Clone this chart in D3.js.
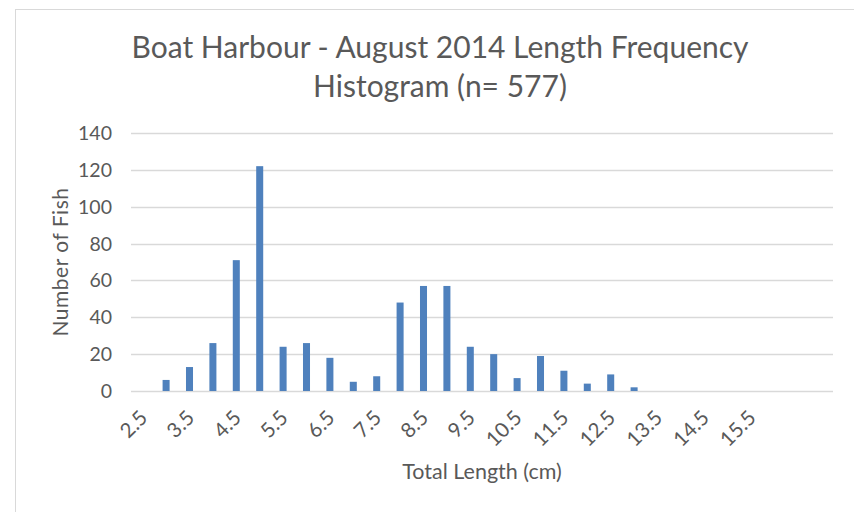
<!DOCTYPE html>
<html>
<head>
<meta charset="utf-8">
<script src="https://cdn.jsdelivr.net/npm/d3@7"></script>
<style>
  body { margin: 0; background: #fff; }
  text { font-family: Lato, "Open Sans", sans-serif; fill: #595959; }
</style>
</head>
<body>
<div class="svg-container"></div>
<script>
const widthSVG = 854;
const heightSVG = 512;

// length classes (cm), one bar each
const lengths = [2.5, 3, 3.5, 4, 4.5, 5, 5.5, 6, 6.5, 7, 7.5, 8, 8.5, 9, 9.5,
  10, 10.5, 11, 11.5, 12, 12.5, 13, 13.5, 14, 14.5, 15, 15.5, 16, 16.5, 17];
// number of fish per class (n = 577)
const counts = [0, 6, 13, 26, 71, 122, 24, 26, 18, 5, 8, 48, 57, 57, 24,
  20, 7, 19, 11, 4, 9, 2, 0, 0, 0, 0, 0, 0, 0, 0];
// labels that are shown on the x axis
const xLabels = ['2.5', '3.5', '4.5', '5.5', '6.5', '7.5', '8.5', '9.5',
  '10.5', '11.5', '12.5', '13.5', '14.5', '15.5'];
const yTicks = [0, 20, 40, 60, 80, 100, 120, 140];

const titleLines = ['Boat Harbour - August 2014 Length Frequency', 'Histogram (n= 577)'];

const svg = d3.select('.svg-container')
  .append('svg')
  .attr('width', widthSVG)
  .attr('height', heightSVG);

// chart area border
svg.append('rect')
  .attr('x', 15.5).attr('y', 9.5)
  .attr('width', 900).attr('height', 600)
  .attr('fill', 'none')
  .attr('stroke', '#d9d9d9');

const plot = { left: 131, right: 833, top: 133, bottom: 391 };

const x = d3.scaleBand()
  .domain(lengths.map(String))
  .range([plot.left, plot.right])
  .paddingInner(0.7)
  .paddingOuter(0.35);

const y = d3.scaleLinear()
  .domain([0, 140])
  .range([plot.bottom, plot.top]);

// grid lines
svg.append('g')
  .selectAll('line')
  .data(yTicks)
  .enter().append('line')
  .attr('x1', plot.left)
  .attr('x2', plot.right)
  .attr('y1', d => Math.round(y(d)) + 0.5)
  .attr('y2', d => Math.round(y(d)) + 0.5)
  .attr('stroke', '#d9d9d9')
  .attr('stroke-width', 1.3);

// y tick labels
svg.append('g')
  .selectAll('text')
  .data(yTicks)
  .enter().append('text')
  .attr('x', 112)
  .attr('y', d => y(d) + 7)
  .attr('text-anchor', 'end')
  .attr('font-size', '19.5px')
  .text(d => d);

// bars
svg.append('g')
  .selectAll('rect')
  .data(lengths.map((l, i) => ({ l: String(l), v: counts[i] })))
  .enter().append('rect')
  .attr('x', d => x(d.l))
  .attr('y', d => y(d.v))
  .attr('width', x.bandwidth())
  .attr('height', d => y(0) - y(d.v))
  .attr('fill', '#4f81bd');

// x tick labels, rotated
svg.append('g')
  .selectAll('text')
  .data(xLabels)
  .enter().append('text')
  .attr('transform', d => `translate(${x(String(+d)) + x.bandwidth() / 2 + 1},${plot.bottom + 23}) rotate(-45)`)
  .attr('text-anchor', 'end')
  .attr('dy', '0.35em')
  .attr('font-size', '20.5px')
  .text(d => d);

// title
svg.append('g')
  .selectAll('text')
  .data(titleLines)
  .enter().append('text')
  .attr('x', 440)
  .attr('y', (d, i) => 58 + i * 39)
  .attr('text-anchor', 'middle')
  .attr('font-size', '30px')
  .text(d => d);

// axis titles
svg.append('text')
  .attr('x', 482)
  .attr('y', 479)
  .attr('text-anchor', 'middle')
  .attr('font-size', '21.5px')
  .text('Total Length (cm)');

svg.append('text')
  .attr('transform', 'translate(68,262) rotate(-90)')
  .attr('text-anchor', 'middle')
  .attr('font-size', '21px')
  .attr('letter-spacing', '0.5px')
  .text('Number of Fish');
</script>
</body>
</html>
